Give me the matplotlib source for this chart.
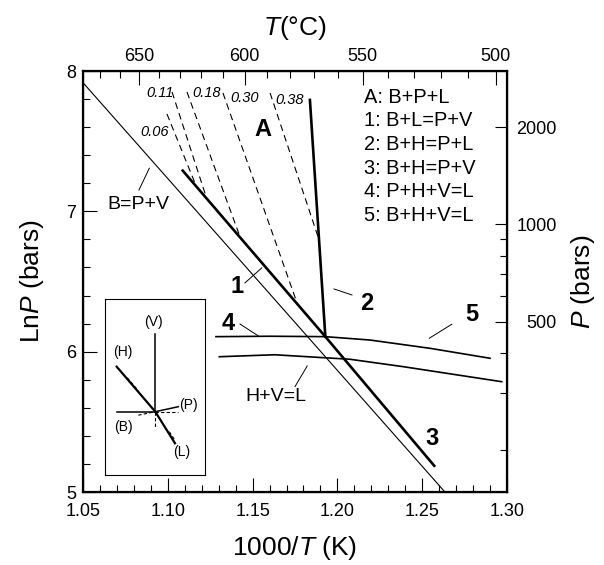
import numpy as np
import matplotlib
matplotlib.use("Agg")
import matplotlib.pyplot as plt

plt.rcParams['font.family'] = ['Liberation Sans', 'DejaVu Sans']
plt.rcParams['mathtext.fontset'] = 'custom'
plt.rcParams['mathtext.rm'] = 'Liberation Sans'
plt.rcParams['mathtext.it'] = 'Liberation Sans:italic'

# --- curves (x = 1000/T in K^-1, y = ln P in bars)
bpv_x = [1.05, 1.2634]            # B=P+V (thin)
bpv_y = [7.917, 5.0]
line13_x = [1.1088, 1.1929, 1.2571]   # reactions 1 and 3 (thick)
line13_y = [7.290, 6.107, 5.187]
line2_x = [1.1838, 1.1929]        # reaction 2 (thick)
line2_y = [7.794, 6.107]
curve45_x = [1.1284, 1.16, 1.1929, 1.2192, 1.2546, 1.29]   # reactions 4 and 5
curve45_y = [6.107, 6.110, 6.107, 6.083, 6.024, 5.953]
hvl_x = [1.1304, 1.163, 1.2074, 1.2389, 1.2969]  # H+V=L
hvl_y = [5.964, 5.978, 5.946, 5.893, 5.786]

# dashed isopleths
iso_labels = ["0.06", "0.11", "0.18", "0.30", "0.38"]
iso_x0 = [1.0995, 1.1025, 1.1113, 1.1325, 1.1603]
iso_y0 = [7.694, 7.851, 7.851, 7.844, 7.844]
iso_x1 = [1.1160, 1.1229, 1.1426, 1.1756, 1.1886]
iso_y1 = [7.202, 7.093, 6.818, 6.368, 6.818]
iso_lx = [1.0925, 1.0954, 1.1229, 1.1455, 1.1721]
iso_ly = [7.566, 7.844, 7.842, 7.806, 7.794]

legend_lines = ["A: B+P+L", "1: B+L=P+V", "2: B+H=P+L", "3: B+H=P+V",
                "4: P+H+V=L", "5: B+H+V=L"]

top_major = [650, 600, 550, 500]
top_minor = list(range(670, 499, -10))
p_major = [500, 1000, 2000]
p_minor = [200, 300, 400, 600, 700, 800, 900]

fig = plt.figure(figsize=(6.04, 5.65), dpi=100)
ax = fig.add_axes([0.1374, 0.1292, 0.7020, 0.7451])
ax.set_xlim(1.05, 1.30)
ax.set_ylim(5, 8)

ax.plot(bpv_x, bpv_y, color="k", lw=0.8)
ax.plot(line13_x, line13_y, color="k", lw=1.9)
ax.plot(line2_x, line2_y, color="k", lw=1.9)
ax.plot(curve45_x, curve45_y, color="k", lw=1.2)
ax.plot(hvl_x, hvl_y, color="k", lw=1.2)
for x0, y0, x1, y1, lab, lx, ly in zip(iso_x0, iso_y0, iso_x1, iso_y1,
                                        iso_labels, iso_lx, iso_ly):
    ax.plot([x0, x1], [y0, y1], color="k", lw=0.8, dashes=(6, 4))
    ax.text(lx, ly, lab, fontsize=10.5, style="italic", ha="center", va="center")

# reaction numbers and leaders
bold = dict(fontsize=17, fontweight="bold", ha="center", va="center")
ax.text(1.1561, 7.580, "A", **bold)
ax.text(1.1406, 6.463, "1", **bold)
ax.text(1.2175, 6.345, "2", **bold)
ax.text(1.2560, 5.383, "3", **bold)
ax.text(1.1357, 6.202, "4", **bold)
ax.text(1.2792, 6.262, "5", **bold)
ax.plot([1.1455, 1.1554], [6.490, 6.597], color="k", lw=0.7)
ax.plot([1.1980, 1.2086], [6.447, 6.404], color="k", lw=0.7)
ax.plot([1.1426, 1.1534], [6.197, 6.112], color="k", lw=0.7)
ax.plot([1.2674, 1.2542], [6.195, 6.096], color="k", lw=0.7)

ax.text(1.0826, 7.046, "B=P+V", fontsize=14, ha="center", va="center")
ax.plot([1.0830, 1.0891], [7.152, 7.307], color="k", lw=0.7)
ax.text(1.1638, 5.679, "H+V=L", fontsize=14, ha="center", va="center")
ax.plot([1.1750, 1.1822], [5.751, 5.898], color="k", lw=0.7)

for i, s in enumerate(legend_lines):
    ax.text(0.662, 0.938 - i * 0.0562, s, transform=ax.transAxes,
            fontsize=14.4, ha="left", va="center")

# bottom / left axes
ax.set_xticks(np.arange(1.05, 1.301, 0.05))
ax.set_xticks(np.arange(1.05, 1.301, 0.01), minor=True)
ax.set_xticklabels(["1.05", "1.10", "1.15", "1.20", "1.25", "1.30"])
ax.set_yticks([5, 6, 7, 8])
ax.set_yticks(np.arange(5, 8.01, 0.2), minor=True)
ax.tick_params(which="both", direction="in", top=False, right=False,
               labelsize=13, width=0.8)
ax.tick_params(which="major", length=10)
ax.tick_params(which="minor", length=5)
ax.tick_params(axis="x", which="major", pad=8)
ax.tick_params(axis="y", which="major", pad=5)
for sp in ax.spines.values():
    sp.set_linewidth(1.6)
ax.set_xlabel("1000/$\\it{T}$ (K)", fontsize=19, labelpad=10)
ax.set_ylabel("Ln$\\it{P}$ (bars)", fontsize=19, labelpad=14)

# top axis in deg C
axt = ax.twiny()
axt.set_xlim(ax.get_xlim())
axt.set_xticks([1000 / (t + 273.15) for t in top_major])
axt.set_xticklabels([str(t) for t in top_major])
axt.set_xticks([1000 / (t + 273.15) for t in top_minor], minor=True)
axt.tick_params(which="both", direction="in", labelsize=13, width=0.8)
axt.tick_params(which="major", length=10, pad=4)
axt.tick_params(which="minor", length=5)
axt.set_xlabel("$\\it{T}$(°C)", fontsize=19, labelpad=10)

# right axis in bars
axr = ax.twinx()
axr.set_ylim(ax.get_ylim())
axr.set_yticks(np.log(p_major))
axr.set_yticklabels([str(p) for p in p_major], ha="right")
axr.set_yticks(np.log(p_minor), minor=True)
axr.tick_params(which="both", direction="in", labelsize=13, width=0.8)
axr.tick_params(which="major", length=9, pad=36)
axr.tick_params(which="minor", length=5)
axr.set_ylabel("$\\it{P}$ (bars)", fontsize=19, labelpad=9)

# inset schematic (local units: pixels from the invariant point)
ins = fig.add_axes([105 / 604, 1 - 475 / 565, 100 / 604, 176 / 565])
ins.set_xlim(-50.3, 49.7)
ins.set_ylim(-63.3, 112.7)
ins.set_xticks([])
ins.set_yticks([])
for sp in ins.spines.values():
    sp.set_linewidth(0.8)
ins.plot([0, 0], [0, 78], color="k", lw=1.1)
ins.plot([0, 0], [0, -15], color="k", lw=0.8, dashes=(3, 2))
ins.plot([-38.6, 0], [0, 0], color="k", lw=1.1)
ins.plot([0, 23], [0, 0], color="k", lw=0.8, dashes=(3, 2))
ins.plot([0, 23], [0, 5], color="k", lw=1.1)
ins.plot([-17, 0], [-3.5, 0], color="k", lw=0.8, dashes=(3, 2))
ins.plot([-38.6, 0, 19.7], [45, 0, -31.6], color="k", lw=1.6)
ins.plot([-28, -17], [34, 21], color="k", lw=0.8, dashes=(3, 2))
ins.plot([14, 20], [-20, -29], color="k", lw=0.8, dashes=(3, 2))
for s, lx, ly in [("(V)", -2, 90), ("(H)", -32, 60), ("(P)", 33, 6.7),
                  ("(B)", -32, -15), ("(L)", 26.4, -40)]:
    ins.text(lx, ly, s, fontsize=10, ha="center", va="center")

fig.savefig("out.png", dpi=100)
